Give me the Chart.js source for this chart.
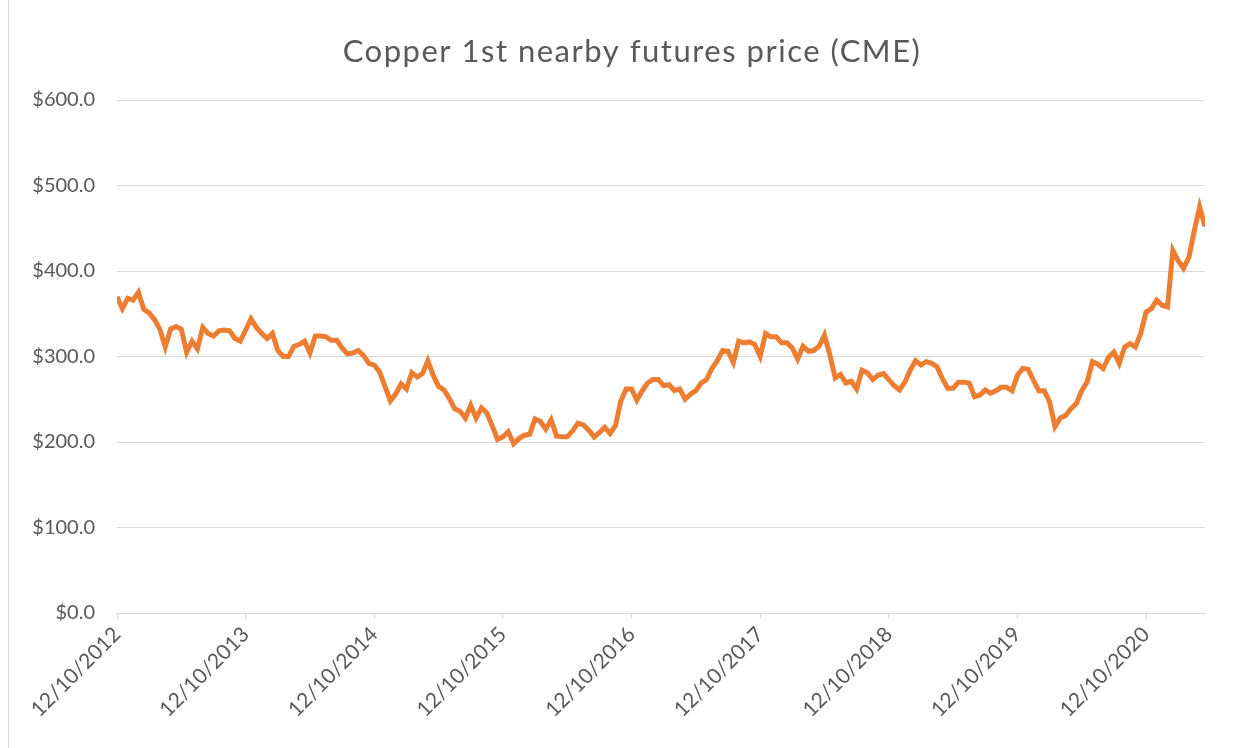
<!DOCTYPE html>
<html>
<head>
<meta charset="utf-8">
<title>Copper 1st nearby futures price (CME)</title>
<script src="https://cdn.jsdelivr.net/npm/chart.js@4"></script>
<style>
    body { margin: 0; background: #ffffff; }
    #frame {
        position: absolute;
        left: 8px;
        top: 0;
        width: 1240px;
        height: 748px;
        border-left: 1px solid #d9d9d9;
    }
    #wrap { position: absolute; left: 0; top: 0; width: 1240px; height: 748px; }
</style>
</head>
<body>
<div id="frame"></div>
<div id="wrap"><canvas id="copperChart" width="1240" height="748"></canvas></div>
<script>
// price readings, semi-monthly steps, starting 12/10/2012
const pointsPerYear = 24;
const prices = [
    370, 356, 368, 366, 375, 355, 351, 343, 332, 311, 332, 335, 332, 305, 318, 309, 334, 327, 324, 330, 331, 330, 321, 318,
    331, 344, 334, 327, 321, 327, 307, 300, 300, 312, 314, 318, 304, 324, 324, 323, 319, 319, 310, 303, 304, 307, 301, 292,
    290, 282, 265, 248, 256, 268, 262, 281, 276, 280, 295, 278, 265, 261, 251, 239, 236, 228, 243, 228, 240, 234, 219, 203,
    206, 212, 198, 204, 208, 209, 227, 224, 215, 226, 207, 206, 206, 213, 222, 220, 214, 206, 211, 217, 210, 219, 248, 262,
    262, 249, 260, 269, 273, 273, 266, 267, 260, 262, 250, 256, 260, 269, 273, 286, 295, 307, 306, 293, 318, 316, 317, 314,
    300, 327, 323, 323, 316, 316, 310, 297, 312, 306, 307, 312, 325, 302, 275, 279, 269, 271, 262, 284, 281, 273, 278, 280,
    273, 266, 261, 270, 284, 295, 290, 294, 292, 288, 274, 263, 263, 270, 270, 269, 253, 255, 261, 257, 260, 264, 264, 260,
    278, 286, 285, 272, 260, 260, 247, 218, 228, 231, 239, 245, 260, 270, 294, 291, 286, 299, 305, 292, 311, 315, 311, 327,
    352, 356, 366, 360, 358, 424, 412, 403, 416, 447, 475, 452
];
const yearLabels = ['12/10/2012', '12/10/2013', '12/10/2014', '12/10/2015', '12/10/2016',
    '12/10/2017', '12/10/2018', '12/10/2019', '12/10/2020'];
const yTicks = [0, 100, 200, 300, 400, 500, 600];

const chartTitle = 'Copper 1st nearby futures price (CME)';
const textColor = '#595959';
const gridColor = '#d9d9d9';
const fontFamily = 'Lato, "Open Sans", sans-serif';

// title drawn by hand so it sits where Excel put it
const titlePlugin = {
    id: 'excelTitle',
    afterDraw(chart) {
        const ctx = chart.ctx;
        ctx.save();
        ctx.fillStyle = textColor;
        ctx.font = '31px ' + fontFamily;
        ctx.letterSpacing = '1.5px';
        ctx.textAlign = 'center';
        ctx.textBaseline = 'middle';
        ctx.fillText(chartTitle, 632, 52);
        ctx.restore();
    }
};

const ctx = document.getElementById('copperChart').getContext('2d');
const copperChart = new Chart(ctx, {
    type: 'line',
    data: {
        datasets: [{
            label: 'Copper',
            data: prices.map((v, i) => ({ x: i / pointsPerYear, y: v })),
            borderColor: '#ED7D31',
            borderWidth: 5,
            pointRadius: 0,
            tension: 0,
            fill: false
        }]
    },
    options: {
        responsive: false,
        animation: false,
        layout: { padding: { top: 100, right: 35, left: 0, bottom: 0 } },
        plugins: {
            legend: { display: false },
            title: { display: false },
            tooltip: { enabled: false }
        },
        scales: {
            x: {
                type: 'linear',
                min: 0,
                max: (prices.length - 1) / pointsPerYear,
                afterBuildTicks: (scale) => {
                    scale.ticks = yearLabels.map((_, i) => ({ value: i }));
                },
                afterFit: (scale) => { scale.height = 135; },
                ticks: {
                    autoSkip: false,
                    minRotation: 45,
                    maxRotation: 45,
                    color: textColor,
                    padding: 3,
                    font: { family: fontFamily, size: 21 },
                    callback: (v) => yearLabels[v]
                },
                grid: {
                    drawOnChartArea: false,
                    drawTicks: true,
                    tickLength: 6,
                    color: gridColor
                },
                border: { display: true, color: gridColor, width: 1 }
            },
            y: {
                min: 0,
                max: 600,
                afterBuildTicks: (scale) => {
                    scale.ticks = yTicks.map(v => ({ value: v }));
                },
                afterFit: (scale) => { scale.width = 117; },
                ticks: {
                    color: textColor,
                    padding: 22,
                    font: { family: fontFamily, size: 20 },
                    callback: (v) => '$' + Number(v).toFixed(1)
                },
                grid: { color: gridColor, drawTicks: false },
                border: { display: false }
            }
        }
    },
    plugins: [titlePlugin]
});
</script>
</body>
</html>
